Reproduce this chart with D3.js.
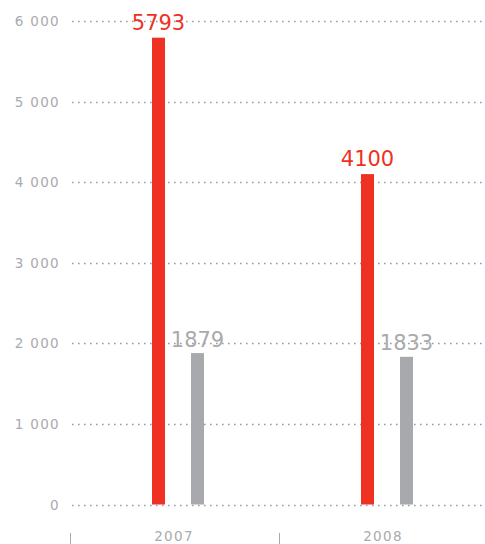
<!DOCTYPE html>
<html>
<head>
<meta charset="utf-8">
<script src="https://cdn.jsdelivr.net/npm/d3@7"></script>
<style>
  html, body { margin: 0; padding: 0; background: #fff; }
  svg { display: block; }
</style>
</head>
<body>
<svg id="chart" width="485" height="544"></svg>
<script>
const years = ["2007", "2008"];
const seriesRed = [5793, 4100];
const seriesGray = [1879, 1833];
const yTicks = [0, 1000, 2000, 3000, 4000, 5000, 6000];

const red = "#ef3124";
const gray = "#a8a9ac";
const textGray = "#a9aaad";

const svg = d3.select("#chart");
const y = d3.scaleLinear().domain([0, 6000]).range([504.5, 21]);
const x = d3.scaleBand().domain(years).range([70, 488]).padding(0);

const fmt = v => v === 0 ? "0" : d3.format(",")(v).replace(/,/g, " ");

// gridlines
const grid = svg.append("g");
grid.selectAll("line").data(yTicks).join("line")
  .attr("x1", 72).attr("x2", 484)
  .attr("y1", d => Math.round(y(d)) + 0.5).attr("y2", d => Math.round(y(d)) + 0.5)
  .attr("stroke", "#9a9b9e").attr("stroke-width", 1.6)
  .attr("stroke-dasharray", "1.6,4.4");

// y axis labels
svg.append("g").selectAll("text").data(yTicks).join("text")
  .attr("x", 60).attr("y", d => y(d) + 5)
  .attr("text-anchor", "end")
  .attr("font-family", "DejaVu Sans, sans-serif")
  .attr("font-size", 13.5)
  .attr("letter-spacing", 1.3)
  .attr("fill", textGray)
  .text(fmt);

const redOff = 82, grayOff = 121, bw = 13;

// bars
svg.append("g").selectAll("rect").data(years).join("rect")
  .attr("x", d => x(d) + redOff).attr("width", bw)
  .attr("y", (d, i) => y(seriesRed[i])).attr("height", (d, i) => y(0) - y(seriesRed[i]))
  .attr("fill", red);
svg.append("g").selectAll("rect").data(years).join("rect")
  .attr("x", d => x(d) + grayOff).attr("width", bw)
  .attr("y", (d, i) => y(seriesGray[i])).attr("height", (d, i) => y(0) - y(seriesGray[i]))
  .attr("fill", gray);

// value labels
svg.append("g").selectAll("text").data(years).join("text")
  .attr("x", d => x(d) + redOff + bw / 2).attr("y", (d, i) => y(seriesRed[i]) - 8)
  .attr("text-anchor", "middle")
  .attr("font-family", "DejaVu Sans, sans-serif").attr("font-size", 21)
  .attr("fill", red)
  .text((d, i) => seriesRed[i]);
svg.append("g").selectAll("text").data(years).join("text")
  .attr("x", d => x(d) + grayOff + bw / 2).attr("y", (d, i) => y(seriesGray[i]) - 6.5)
  .attr("text-anchor", "middle")
  .attr("font-family", "DejaVu Sans, sans-serif").attr("font-size", 21)
  .attr("fill", textGray)
  .text((d, i) => seriesGray[i]);

// x axis ticks and labels
svg.append("g").selectAll("line").data(years).join("line")
  .attr("x1", d => x(d) + 0.5).attr("x2", d => x(d) + 0.5)
  .attr("y1", 533).attr("y2", 544)
  .attr("stroke", textGray).attr("stroke-width", 1);
svg.append("g").selectAll("text").data(years).join("text")
  .attr("x", d => x(d) + 104).attr("y", 541)
  .attr("text-anchor", "middle")
  .attr("font-family", "DejaVu Sans, sans-serif")
  .attr("font-size", 13.5)
  .attr("letter-spacing", 1.3)
  .attr("fill", textGray)
  .text(d => d);
</script>
</body>
</html>
